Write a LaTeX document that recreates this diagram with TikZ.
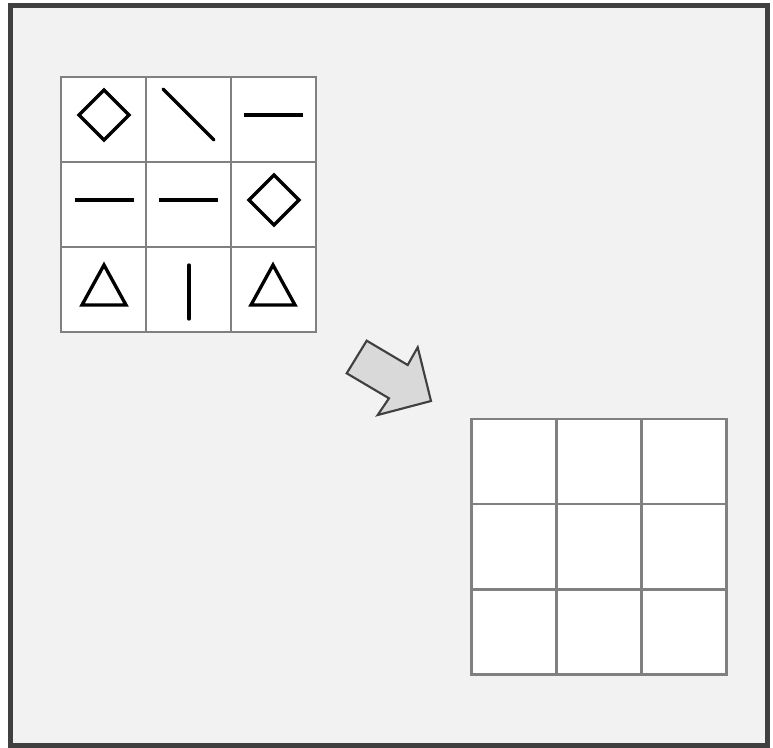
\documentclass[tikz,border=0pt]{standalone}
\usepackage{xcolor}
\usepackage{tikz}
\usetikzlibrary{calc,positioning}
\definecolor{frame}{RGB}{64,64,64}
\definecolor{paper}{RGB}{242,242,242}
\definecolor{gridline}{RGB}{128,128,128}
\definecolor{arrowfill}{RGB}{217,217,217}

\begin{document}
\begin{tikzpicture}[x=0.75pt,y=-0.75pt,
      cell/.style={draw=gridline,fill=white,line width=2.2pt,minimum size=63.75pt,inner sep=0pt},
      sym/.style={black,line width=2.5pt,line join=miter},
      rsym/.style={sym,line cap=round}]
    \useasboundingbox (0,0) rectangle (773,748);
    \draw[frame,line width=3.75pt,fill=paper] (10.5,5.5) rectangle (767.5,745.5);
    % puzzle grid
    \node[cell] (a11) at (103.5,119.5) {};
    \node[cell] (a12) at (188.5,119.5) {};
    \node[cell] (a13) at (273.5,119.5) {};
    \node[cell] (a21) at (103.5,204.5) {};
    \node[cell] (a22) at (188.5,204.5) {};
    \node[cell] (a23) at (273.5,204.5) {};
    \node[cell] (a31) at (103.5,289.5) {};
    \node[cell] (a32) at (188.5,289.5) {};
    \node[cell] (a33) at (273.5,289.5) {};
    % answer grid
    \node[cell] (b11) at (514,461.5) {};
    \node[cell] (b12) at (599,461.5) {};
    \node[cell] (b13) at (684,461.5) {};
    \node[cell] (b21) at (514,546.5) {};
    \node[cell] (b22) at (599,546.5) {};
    \node[cell] (b23) at (684,546.5) {};
    \node[cell] (b31) at (514,632) {};
    \node[cell] (b32) at (599,632) {};
    \node[cell] (b33) at (684,632) {};
    % symbols
    \draw[sym] ($(a11)+(0.5,-29.5)$) -- ++(25,25) -- ++(-25,25) -- ++(-25,-25) -- cycle;
    \draw[rsym] ($(a12)+(-25.5,-30.5)$) -- ++(51,51);
    \draw[sym] ($(a13)+(-29.5,-4.5)$) -- ++(59,0);
    \draw[sym] ($(a21)+(-28.5,-4.5)$) -- ++(59,0);
    \draw[sym] ($(a22)+(-29.5,-4.5)$) -- ++(59,0);
    \draw[sym] ($(a23)+(0.5,-29.5)$) -- ++(25,25) -- ++(-25,25) -- ++(-25,-25) -- cycle;
    \draw[sym] ($(a31)+(0.5,-24.5)$) -- ++(22,40) -- ++(-44,0) -- cycle;
    \draw[rsym] ($(a32)+(0.5,-24.5)$) -- ++(0,54);
    \draw[sym] ($(a33)+(-0.5,-24.5)$) -- ++(22,40) -- ++(-44,0) -- cycle;
    % block arrow
    \draw[frame,fill=arrowfill,line width=1.6pt,line join=miter]
      (366.7,340.7) -- (407.7,365) -- (417.7,347.3) -- (431,401)
      -- (377.7,415) -- (389,398.3) -- (346.7,373.3) -- cycle;
\end{tikzpicture}
\end{document}
